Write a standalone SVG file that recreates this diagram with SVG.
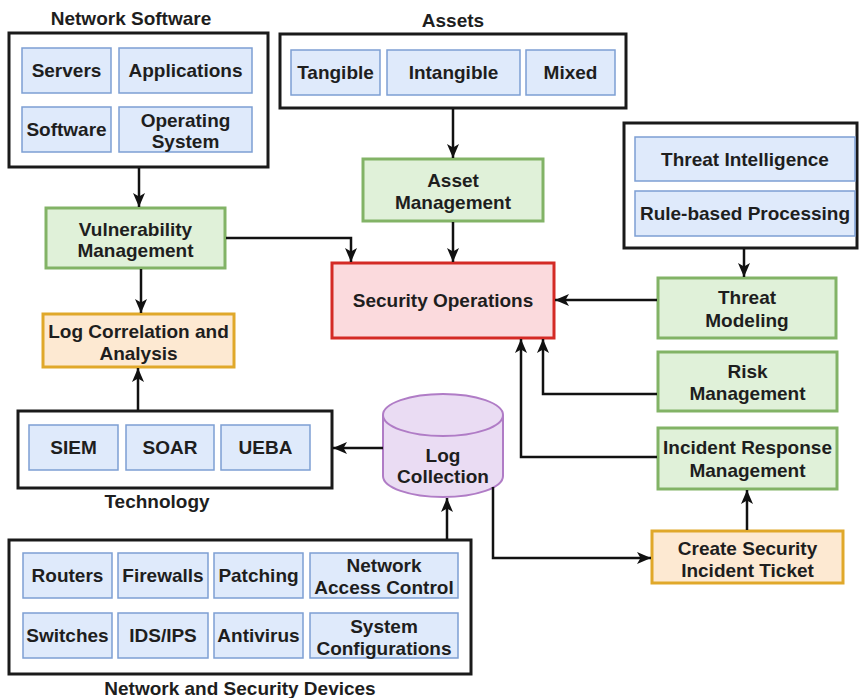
<svg xmlns="http://www.w3.org/2000/svg" width="859" height="698" viewBox="0 0 859 698">
<defs>
<style>
text{font-family:"Liberation Sans",Arial,sans-serif;font-weight:bold;font-size:19px;fill:#1e1e1e;text-anchor:middle}
.outer{fill:#ffffff;stroke:#1a1a1a;stroke-width:3}
.blue{fill:#dfeafb;stroke:#7d9fd3;stroke-width:1.5}
.green{fill:#e0f1d9;stroke:#82b366;stroke-width:3}
.orange{fill:#fde9d2;stroke:#e0a82a;stroke-width:3}
.red{fill:#fbdadd;stroke:#d42a25;stroke-width:3}
.purple{fill:#eadcf3;stroke:#b07cc6;stroke-width:2}
.conn{fill:none;stroke:#111;stroke-width:2.5;marker-end:url(#arr)}
</style>
<marker id="arr" markerUnits="userSpaceOnUse" markerWidth="16" markerHeight="16" viewBox="0 0 16 16" refX="15" refY="8" orient="auto">
<path d="M1,2 L15,8 L1,14 L4.5,8 Z" fill="#111"/>
</marker>
</defs>

<g id="network-software">
<text x="131" y="25">Network Software</text>
<rect class="outer" x="9" y="33" width="259" height="134"/>
<rect class="blue" x="22" y="48" width="89" height="45"/><text x="66.5" y="77">Servers</text>
<rect class="blue" x="119" y="48" width="133" height="45"/><text x="185.5" y="77">Applications</text>
<rect class="blue" x="22" y="107" width="89" height="45"/><text x="66.5" y="136">Software</text>
<rect class="blue" x="119" y="107" width="133" height="45"/><text x="185.5" y="127">Operating</text><text x="185.5" y="148">System</text>
</g>

<g id="assets">
<text x="453" y="27">Assets</text>
<rect class="outer" x="280" y="34" width="346" height="74"/>
<rect class="blue" x="291" y="50" width="89" height="45"/><text x="335.5" y="79">Tangible</text>
<rect class="blue" x="387" y="50" width="133" height="45"/><text x="453.5" y="79">Intangible</text>
<rect class="blue" x="526" y="50" width="89" height="45"/><text x="570.5" y="79">Mixed</text>
</g>

<g id="asset-management">
<rect class="green" x="363" y="159" width="180" height="62"/>
<text x="453" y="187">Asset</text><text x="453" y="209">Management</text>
</g>

<g id="vulnerability-management">
<rect class="green" x="46" y="208" width="179" height="60"/>
<text x="135.5" y="236">Vulnerability</text><text x="135.5" y="257">Management</text>
</g>

<g id="log-correlation">
<rect class="orange" x="43" y="314" width="191" height="53"/>
<text x="138.5" y="338">Log Correlation and</text><text x="138.5" y="360">Analysis</text>
</g>

<g id="security-operations">
<rect class="red" x="332" y="263" width="222" height="75"/>
<text x="443" y="307">Security Operations</text>
</g>

<g id="threat-sources">
<rect class="outer" x="624" y="123" width="233" height="125"/>
<rect class="blue" x="635" y="137" width="220" height="44"/><text x="745" y="166">Threat Intelligence</text>
<rect class="blue" x="635" y="191" width="220" height="45"/><text x="745" y="220">Rule-based Processing</text>
</g>

<g id="threat-modeling">
<rect class="green" x="658" y="278" width="178" height="60"/>
<text x="747" y="304">Threat</text><text x="747" y="327">Modeling</text>
</g>

<g id="risk-management">
<rect class="green" x="658" y="352" width="179" height="59"/>
<text x="747.5" y="378">Risk</text><text x="747.5" y="400">Management</text>
</g>

<g id="incident-response">
<rect class="green" x="658" y="428" width="179" height="61"/>
<text x="747.5" y="454">Incident Response</text><text x="747.5" y="477">Management</text>
</g>

<g id="create-ticket">
<rect class="orange" x="652" y="531" width="191" height="52"/>
<text x="747.5" y="555">Create Security</text><text x="747.5" y="577">Incident Ticket</text>
</g>

<g id="log-collection">
<path class="purple" d="M383,415 A60,21 0 0 1 503,415 L503,476 A60,21 0 0 1 383,476 Z"/>
<path class="purple" fill="none" d="M383,415 A60,21 0 0 0 503,415"/>
<text x="443" y="462">Log</text><text x="443" y="483">Collection</text>
</g>

<g id="technology">
<rect class="outer" x="18" y="411" width="314" height="77"/>
<rect class="blue" x="29" y="425" width="89" height="45"/><text x="73.5" y="454">SIEM</text>
<rect class="blue" x="126" y="425" width="88" height="45"/><text x="170" y="454">SOAR</text>
<rect class="blue" x="221" y="425" width="89" height="45"/><text x="265.5" y="454">UEBA</text>
<text x="157" y="508">Technology</text>
</g>

<g id="network-security-devices">
<rect class="outer" x="9" y="540" width="462" height="134"/>
<rect class="blue" x="23" y="553" width="89" height="45"/><text x="67.5" y="582">Routers</text>
<rect class="blue" x="118" y="553" width="90" height="45"/><text x="163" y="582">Firewalls</text>
<rect class="blue" x="214" y="553" width="89" height="45"/><text x="258.5" y="582">Patching</text>
<rect class="blue" x="310" y="553" width="148" height="45"/><text x="384" y="572">Network</text><text x="384" y="594">Access Control</text>
<rect class="blue" x="23" y="613" width="89" height="45"/><text x="67.5" y="642">Switches</text>
<rect class="blue" x="118" y="613" width="90" height="45"/><text x="163" y="642">IDS/IPS</text>
<rect class="blue" x="214" y="613" width="89" height="45"/><text x="258.5" y="642">Antivirus</text>
<rect class="blue" x="310" y="613" width="148" height="45"/><text x="384" y="633">System</text><text x="384" y="655">Configurations</text>
<text x="240" y="695">Network and Security Devices</text>
</g>

<g id="connectors">
<path class="conn" d="M139,168 L139,207"/>
<path class="conn" d="M453,109 L453,158"/>
<path class="conn" d="M453,222 L453,262"/>
<path class="conn" d="M226,238 L351,238 L351,262"/>
<path class="conn" d="M141,269 L141,313"/>
<path class="conn" d="M138,410 L138,368"/>
<path class="conn" d="M383,448 L333,448"/>
<path class="conn" d="M447,539 L447,498"/>
<path class="conn" d="M493,487 L493,558 L651,558"/>
<path class="conn" d="M744,249 L744,277"/>
<path class="conn" d="M657,300 L555,300"/>
<path class="conn" d="M657,394 L543,394 L543,339"/>
<path class="conn" d="M657,457 L521,457 L521,339"/>
<path class="conn" d="M747,530 L747,490"/>
</g>
</svg>
